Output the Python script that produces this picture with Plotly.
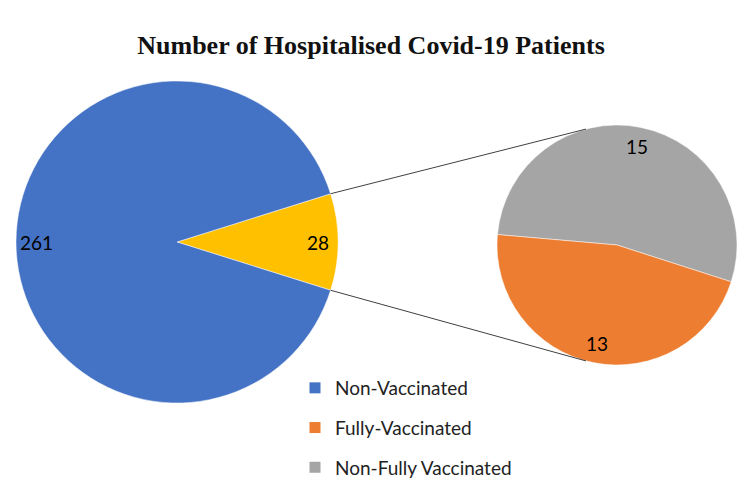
import math
import plotly.graph_objects as go

# ---- data ----
main_labels = ["Vaccinated (other)", "Non-Vaccinated"]
main_values = [28, 261]
main_colors = ["#FFC000", "#4472C4"]

sub_labels = ["Non-Fully Vaccinated", "Fully-Vaccinated"]
sub_values = [15, 13]
sub_colors = ["#A5A5A5", "#ED7D31"]

legend_labels = ["Non-Vaccinated", "Fully-Vaccinated", "Non-Fully Vaccinated"]
legend_colors = ["#4472C4", "#ED7D31", "#A5A5A5"]

title = "Number of Hospitalised Covid-19 Patients"

W, H = 750, 500
OFF = 8  # page body margin
# pie placement (pixels in the screenshot)
main_cx, main_cy, main_r = 177 - OFF, 242 - OFF, 161
sub_cx, sub_cy, sub_r = 617 - OFF, 245 - OFF, 120
sub_rotation = -85
label_inset = 20  # px from the outer edge

def px2paper(x, y):
    return x / W, 1 - y / H

main_split = 360 * main_values[0] / sum(main_values)
main_rotation = 90 - main_split / 2

def add_pie(labels, values, colors, cx, cy, r, rotation):
    fig.add_trace(go.Pie(
        labels=labels, values=values, sort=False, direction="clockwise",
        rotation=rotation,
        marker=dict(colors=colors, line=dict(color="white", width=0.5)),
        textinfo="none",
        domain=dict(x=[(cx - r) / W, (cx + r) / W],
                    y=[1 - (cy + r) / H, 1 - (cy - r) / H]),
        showlegend=False, hoverinfo="label+value",
    ))
    # value labels near outer edge, at each slice's mid angle
    total = sum(values)
    start = rotation
    for v in values:
        span = 360 * v / total
        mid = start + span / 2  # compass degrees, clockwise from north
        a = math.radians(mid)
        rr = r - label_inset
        x = cx + rr * math.sin(a)
        y = cy - rr * math.cos(a)
        px, py = px2paper(x, y)
        fig.add_annotation(x=px, y=py, xref="paper", yref="paper",
                           xanchor="center", yanchor="middle",
                           text=str(v), showarrow=False,
                           font=dict(family="Lato", size=19, color="black"))
        start += span

fig = go.Figure()
add_pie(main_labels, main_values, main_colors, main_cx, main_cy, main_r, main_rotation)
add_pie(sub_labels, sub_values, sub_colors, sub_cx, sub_cy, sub_r, sub_rotation)

# legend entries
for lab, col in zip(legend_labels, legend_colors):
    fig.add_trace(go.Scatter(x=[None], y=[None], mode="markers", name=lab,
                             legendgroup=lab,
                             marker=dict(symbol="square", size=11, color=col)))

# connector lines from yellow slice edges to second pie
half = math.radians(main_split / 2)
for sgn, ang in [(1, 105), (-1, -105)]:
    x0 = main_cx + main_r * math.cos(half)
    y0 = main_cy - sgn * main_r * math.sin(half)
    x1 = sub_cx + sub_r * math.cos(math.radians(ang))
    y1 = sub_cy - sub_r * math.sin(math.radians(ang))
    p0 = px2paper(x0, y0)
    p1 = px2paper(x1, y1)
    fig.add_shape(type="line", xref="paper", yref="paper",
                  x0=p0[0], y0=p0[1], x1=p1[0], y1=p1[1],
                  line=dict(color="#404040", width=1))

fig.update_layout(
    width=W, height=H, margin=dict(l=0, r=0, t=0, b=0),
    paper_bgcolor="white", plot_bgcolor="white",
    title=dict(text=f"<b>{title}</b>", x=(371 - OFF) / W, xanchor="center",
               y=1 - (45 - OFF) / H, yanchor="middle",
               font=dict(family="Liberation Serif", size=26, color="#111111")),
    xaxis=dict(visible=False), yaxis=dict(visible=False),
    legend=dict(x=(295 - OFF) / W, y=1 - (369 - OFF) / H, xanchor="left", yanchor="top",
                font=dict(family="Lato", size=19, color="#222222"),
                tracegroupgap=12, bgcolor="rgba(0,0,0,0)"),
)

fig.write_html("out.html")
